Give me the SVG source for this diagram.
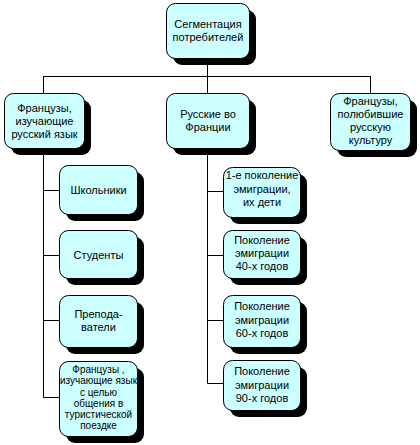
<svg xmlns="http://www.w3.org/2000/svg" width="420" height="445" viewBox="0 0 420 445">
<style>
.sh{fill:#000}
.bx{fill:#ccffff;stroke:#000;stroke-width:1}
text{font-family:"Liberation Sans",Arial,sans-serif;font-size:11px;fill:#000;text-anchor:middle}
.sm{font-size:10px}
.cn{stroke:#000;stroke-width:1;fill:none}
</style>
<rect width="420" height="445" fill="#fff"/>
<g id="connectors" class="cn">
<path d="M207.5 58V93M43.5 76.5H370.5M43.5 76V93M370.5 76V93"/>
<path d="M43.5 148V397.5M43.5 190.5H59M43.5 255.5H59M43.5 320.5H59M43.5 397.5H59"/>
<path d="M207.5 148V383.5M207.5 191.5H223M207.5 255.5H223M207.5 320.5H223M207.5 383.5H223"/>
</g>
<g id="n-top">
<rect class="sh" x="173" y="10" width="83" height="55" rx="9"/>
<rect class="bx" x="166.5" y="3.5" width="83" height="55" rx="9"/>
<text x="208" y="27.5">Сегментация</text>
<text x="208" y="40.5">потребителей</text>
</g>
<g id="n-left">
<rect class="sh" x="11" y="100" width="80" height="55" rx="9"/>
<rect class="bx" x="4.5" y="93.5" width="80" height="55" rx="9"/>
<text x="44.5" y="111.5">Французы,</text>
<text x="44.5" y="124.5">изучающие</text>
<text x="44.5" y="137.5">русский язык</text>
</g>
<g id="n-mid">
<rect class="sh" x="173" y="100" width="83" height="55" rx="9"/>
<rect class="bx" x="166.5" y="93.5" width="83" height="55" rx="9"/>
<text x="208" y="118">Русские во</text>
<text x="208" y="131">Франции</text>
</g>
<g id="n-right">
<rect class="sh" x="337" y="100" width="80" height="57" rx="9"/>
<rect class="bx" x="330.5" y="93.5" width="80" height="57" rx="9"/>
<text x="370.5" y="104.5">Французы,</text>
<text x="370.5" y="117.5">полюбившие</text>
<text x="370.5" y="130.5">русскую</text>
<text x="370.5" y="143.5">культуру</text>
</g>
<g id="n-school">
<rect class="sh" x="66" y="172" width="78" height="49" rx="9"/>
<rect class="bx" x="59.5" y="165.5" width="78" height="49" rx="9"/>
<text x="98.5" y="194">Школьники</text>
</g>
<g id="n-stud">
<rect class="sh" x="66" y="237" width="78" height="48" rx="9"/>
<rect class="bx" x="59.5" y="230.5" width="78" height="48" rx="9"/>
<text x="98.5" y="258.5">Студенты</text>
</g>
<g id="n-teach">
<rect class="sh" x="66" y="302" width="78" height="52" rx="9"/>
<rect class="bx" x="59.5" y="295.5" width="78" height="52" rx="9"/>
<text x="98.5" y="318">Препода-</text>
<text x="98.5" y="331">ватели</text>
</g>
<g id="n-tour">
<rect class="sh" x="66" y="368" width="78" height="75" rx="9"/>
<rect class="bx" x="59.5" y="361.5" width="78" height="75" rx="9"/>
<text class="sm" x="98.5" y="372.5">Французы ,</text>
<text class="sm" x="98.5" y="384">изучающие язык</text>
<text class="sm" x="98.5" y="395.5">с целью</text>
<text class="sm" x="98.5" y="406.5">общения в</text>
<text class="sm" x="98.5" y="417.5">туристической</text>
<text class="sm" x="98.5" y="428.5">поездке</text>
</g>
<g id="n-gen1">
<rect class="sh" x="230" y="174" width="77" height="50" rx="9"/>
<rect class="bx" x="223.5" y="167.5" width="77" height="50" rx="9"/>
<text x="262" y="179">1-е поколение</text>
<text x="262" y="192.5">эмиграции,</text>
<text x="262" y="206">их дети</text>
</g>
<g id="n-gen40">
<rect class="sh" x="230" y="237" width="77" height="48" rx="9"/>
<rect class="bx" x="223.5" y="230.5" width="77" height="48" rx="9"/>
<text x="262" y="244">Поколение</text>
<text x="262" y="257">эмиграции</text>
<text x="262" y="270">40-х годов</text>
</g>
<g id="n-gen60">
<rect class="sh" x="230" y="302" width="77" height="52" rx="9"/>
<rect class="bx" x="223.5" y="295.5" width="77" height="52" rx="9"/>
<text x="262" y="310">Поколение</text>
<text x="262" y="323.5">эмиграции</text>
<text x="262" y="337">60-х годов</text>
</g>
<g id="n-gen90">
<rect class="sh" x="230" y="367" width="77" height="50" rx="9"/>
<rect class="bx" x="223.5" y="360.5" width="77" height="50" rx="9"/>
<text x="262" y="375">Поколение</text>
<text x="262" y="388.5">эмиграции</text>
<text x="262" y="402">90-х годов</text>
</g>
</svg>
